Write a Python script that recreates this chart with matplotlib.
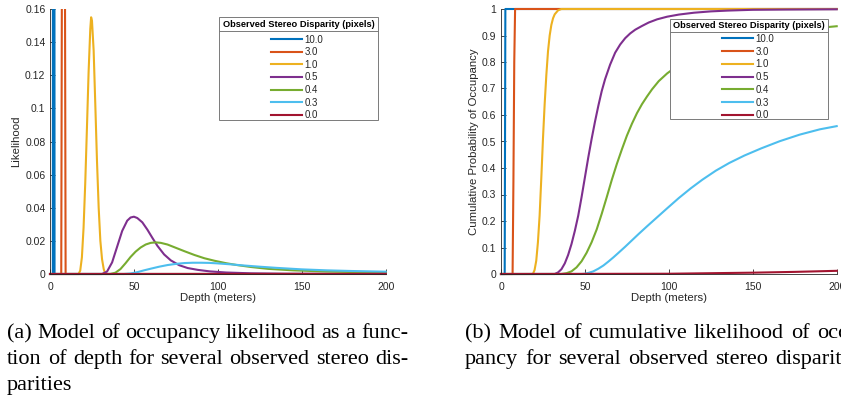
import matplotlib
matplotlib.use("Agg")
import matplotlib.pyplot as plt
from matplotlib.lines import Line2D
from matplotlib.patches import Rectangle
from matplotlib.ticker import FuncFormatter, MultipleLocator

# ---------------- data ----------------
disparity_labels = ["10.0", "3.0", "1.0", "0.5", "0.4", "0.3", "0.0"]
legend_title = "Observed Stereo Disparity (pixels)"

# (a) likelihood vs depth
pdf_depth_10 = [0, 1.7, 2.2, 2.7, 200]
pdf_val_10 = [0, 0, 2.0, 0, 0]
pdf_depth_3 = [0, 6.7, 8.0, 9.3, 200]
pdf_val_3 = [0, 0, 0.6, 0, 0]
pdf_depth_1 = [0, 17, 18, 19, 20, 21, 22, 23, 24, 24.5, 25, 26, 27, 28, 29, 30, 31, 32, 33, 200]
pdf_val_1 = [0, 0, 0.002, 0.01, 0.028, 0.055, 0.088, 0.122, 0.148, 0.155, 0.153, 0.135,
             0.102, 0.068, 0.04, 0.02, 0.009, 0.003, 0, 0]
pdf_depth_05 = [0, 31, 34, 37, 40, 43, 46, 48, 50, 52, 55, 58, 61, 64, 68, 72, 77, 82, 88,
                95, 105, 120, 140, 200]
pdf_val_05 = [0, 0, 0.0015, 0.007, 0.0165, 0.026, 0.0322, 0.0341, 0.0346, 0.0338, 0.0312,
              0.0268, 0.0218, 0.017, 0.0118, 0.0082, 0.0053, 0.0036, 0.0025, 0.0016, 0.0009,
              0.0004, 0.00015, 0]
pdf_depth_04 = [0, 36, 39, 42, 45, 48, 51, 54, 57, 60, 63, 66, 70, 75, 80, 86, 92, 98, 105,
                112, 120, 130, 145, 165, 185, 200]
pdf_val_04 = [0, 0, 0.0008, 0.003, 0.0065, 0.0103, 0.0135, 0.016, 0.0178, 0.0188, 0.0191,
              0.0188, 0.0178, 0.0158, 0.0138, 0.0115, 0.0095, 0.008, 0.0065, 0.0053, 0.0042,
              0.0031, 0.0022, 0.0015, 0.0011, 0.0009]
pdf_depth_03 = [0, 44, 48, 52, 56, 60, 65, 70, 75, 80, 85, 90, 95, 100, 108, 116, 125, 135,
                150, 165, 180, 200]
pdf_val_03 = [0, 0, 0.0003, 0.0011, 0.0022, 0.0032, 0.0044, 0.0054, 0.0061, 0.0066, 0.0068,
              0.0068, 0.0067, 0.0064, 0.0058, 0.0051, 0.0044, 0.0037, 0.0028, 0.0022, 0.0018,
              0.0014]
pdf_depth_00 = [0, 100, 200]
pdf_val_00 = [0, 0.00003, 0.0001]

# (b) cumulative probability vs depth
cdf_depth_10 = [0, 2.2, 2.6, 200]
cdf_val_10 = [0, 0, 1, 1]
cdf_depth_3 = [0, 6.9, 7.4, 7.9, 8.4, 200]
cdf_val_3 = [0, 0, 0.35, 0.8, 1, 1]
cdf_depth_1 = [0, 19, 20, 21, 22, 23, 24, 25, 26, 27, 28, 29, 30, 31, 32, 34, 36, 200]
cdf_val_1 = [0, 0, 0.015, 0.05, 0.12, 0.22, 0.36, 0.51, 0.64, 0.75, 0.84, 0.90, 0.94, 0.965,
             0.98, 0.995, 1.0, 1.0]
cdf_depth_05 = [0, 32, 34, 36, 38, 40, 42, 44, 46, 48, 50, 52, 54, 56, 58, 60, 62, 65, 68, 71,
                74, 77, 80, 84, 88, 93, 99, 106, 115, 125, 135, 150, 170, 200]
cdf_val_05 = [0, 0, 0.006, 0.018, 0.04, 0.072, 0.113, 0.163, 0.22, 0.29, 0.365, 0.44, 0.51,
              0.575, 0.635, 0.69, 0.735, 0.79, 0.835, 0.866, 0.89, 0.908, 0.922, 0.936, 0.949,
              0.961, 0.971, 0.979, 0.986, 0.991, 0.994, 0.997, 0.998, 0.999]
cdf_depth_04 = [0, 36, 39, 42, 45, 48, 51, 54, 57, 60, 63, 66, 69, 72, 75, 78, 81, 84, 87, 90,
                94, 99, 105, 112, 120, 130, 145, 160, 180, 200]
cdf_val_04 = [0, 0, 0.003, 0.01, 0.025, 0.048, 0.08, 0.12, 0.168, 0.227, 0.29, 0.355, 0.415,
              0.47, 0.522, 0.567, 0.607, 0.641, 0.67, 0.697, 0.728, 0.757, 0.785, 0.812, 0.837,
              0.86, 0.887, 0.907, 0.923, 0.935]
cdf_depth_03 = [0, 48, 50, 52, 55, 58, 61, 64, 67, 70, 74, 78, 82, 87, 93, 99, 106, 113, 120,
                128, 136, 145, 155, 166, 178, 190, 200]
cdf_val_03 = [0, 0, 0.001, 0.004, 0.01, 0.02, 0.032, 0.047, 0.063, 0.08, 0.103, 0.127, 0.151,
              0.18, 0.214, 0.248, 0.287, 0.323, 0.356, 0.39, 0.419, 0.447, 0.474, 0.501, 0.526,
              0.546, 0.558]
cdf_depth_00 = [0, 100, 125, 150, 175, 200]
cdf_val_00 = [0, 0.001, 0.003, 0.005, 0.008, 0.012]

caption_a = [["(a)", "Model", "of", "occupancy", "likelihood", "as", "a", "func-"],
             ["tion", "of", "depth", "for", "several", "observed", "stereo", "dis-"],
             ["parities"]]
caption_b = [["(b)", "Model", "of", "cumulative", "likelihood", "of", "occu-"],
             ["pancy", "for", "several", "observed", "stereo", "disparities"]]

# ---------------- style ----------------
colors = ["#0072BD", "#D95319", "#EDB120", "#7E2F8E", "#77AC30", "#4DBEEE", "#A2142F"]
plt.rcParams["font.family"] = ["Liberation Sans", "DejaVu Sans"]
TXT = "#262626"

W, H = 841, 400
fig = plt.figure(figsize=(W / 100, H / 100), dpi=100)
fig.patch.set_facecolor("white")


def fx(px):
    return px / W


def fy(py):
    return 1 - py / H


ax1 = fig.add_axes([fx(50), fy(274), 335.7 / W, 265 / H])
ax2 = fig.add_axes([fx(501), fy(274), 335.7 / W, 265 / H])

fmt = FuncFormatter(lambda v, p: "%g" % round(v, 4))


def style(ax, ymax, ystep, ylabel, ylabelpad):
    ax.set_xlim(0, 200)
    ax.set_ylim(0, ymax)
    ax.xaxis.set_major_locator(MultipleLocator(50))
    ax.yaxis.set_major_locator(MultipleLocator(ystep))
    ax.yaxis.set_major_formatter(fmt)
    ax.xaxis.set_major_formatter(fmt)
    for s in ["top", "right"]:
        ax.spines[s].set_visible(False)
    for s in ["left", "bottom"]:
        ax.spines[s].set_color(TXT)
        ax.spines[s].set_linewidth(0.6)
    ax.tick_params(direction="in", length=3.5, width=0.6, color=TXT, labelsize=7.5,
                   labelcolor=TXT)
    ax.tick_params(axis="x", pad=5.8)
    ax.tick_params(axis="y", pad=3.3)
    ax.set_xlabel("Depth (meters)", fontsize=8.2, color=TXT, labelpad=1)
    ax.set_ylabel(ylabel, fontsize=8.2, color=TXT, labelpad=ylabelpad)


pdf_series = [(pdf_depth_10, pdf_val_10), (pdf_depth_3, pdf_val_3), (pdf_depth_1, pdf_val_1),
              (pdf_depth_05, pdf_val_05), (pdf_depth_04, pdf_val_04),
              (pdf_depth_03, pdf_val_03), (pdf_depth_00, pdf_val_00)]
cdf_series = [(cdf_depth_10, cdf_val_10), (cdf_depth_3, cdf_val_3), (cdf_depth_1, cdf_val_1),
              (cdf_depth_05, cdf_val_05), (cdf_depth_04, cdf_val_04),
              (cdf_depth_03, cdf_val_03), (cdf_depth_00, cdf_val_00)]

lines1 = []
for i, (d, v) in enumerate(pdf_series):
    clip = max(v) > 0.16
    ln, = ax1.plot(d, v, color=colors[i], lw=1.5, clip_on=clip, solid_joinstyle="round")
    lines1.append(ln)
lines2 = []
for i, (d, v) in enumerate(cdf_series):
    ln, = ax2.plot(d, v, color=colors[i], lw=1.5, clip_on=False, solid_joinstyle="round")
    lines2.append(ln)

style(ax1, 0.16, 0.02, "Likelihood", 3)
style(ax2, 1.0, 0.1, "Cumulative Probability of Occupancy", 2)


def legend_box(handles, l, t, r, b, title_y, sep_y, entries_top, cx, lspace):
    ec = "#7a7a7a"
    fig.add_artist(Rectangle((fx(l), fy(b)), fx(r) - fx(l), fy(t) - fy(b),
                             transform=fig.transFigure, facecolor="white", edgecolor=ec,
                             lw=0.7, zorder=4))
    fig.add_artist(Line2D([fx(l), fx(r)], [fy(sep_y), fy(sep_y)], transform=fig.transFigure,
                          color=ec, lw=0.7, zorder=5))
    fig.text(fx((l + r) / 2), fy(title_y), legend_title, ha="center", va="center",
             fontsize=6.7, fontweight="bold", color="black", zorder=6)
    leg = fig.legend(handles, disparity_labels, loc="upper center",
                     bbox_to_anchor=(fx(cx), fy(entries_top)), bbox_transform=fig.transFigure,
                     frameon=False, fontsize=7, handlelength=3.2, handletextpad=0.3,
                     labelspacing=lspace, borderpad=0, borderaxespad=0)
    leg.set_zorder(6)
    for t_ in leg.get_texts():
        t_.set_color(TXT)


legend_box(lines1, 219.3, 16.7, 378, 120, 24.5, 30.7, 34.6, 297, 0.27)
legend_box(lines2, 670, 19.3, 828.3, 119.3, 25.5, 31.7, 33.9, 748, 0.28)

# ---------------- captions (justified lines) ----------------
renderer = fig.canvas.get_renderer()
CAP_FS = 16


def caption(lines, x0, x1, baselines, justify_last=False):
    for k, words in enumerate(lines):
        texts = [fig.text(0, fy(baselines[k]), w, fontsize=CAP_FS, va="baseline",
                          family=["Liberation Serif", "DejaVu Serif"], color="black")
                 for w in words]
        widths = [t.get_window_extent(renderer).width for t in texts]
        last = (k == len(lines) - 1) and not justify_last
        if len(words) > 1 and not last:
            gap = (x1 - x0 - sum(widths)) / (len(words) - 1)
        else:
            gap = CAP_FS * 100 / 72 * 0.25
        x = x0
        for t, w in zip(texts, widths):
            t.set_x(fx(x))
            x += w + gap


caption(caption_a, 7, 408, [338, 364, 390])
caption(caption_b, 465, 866, [338, 364], justify_last=True)

fig.savefig("out.png", dpi=100, facecolor="white")
